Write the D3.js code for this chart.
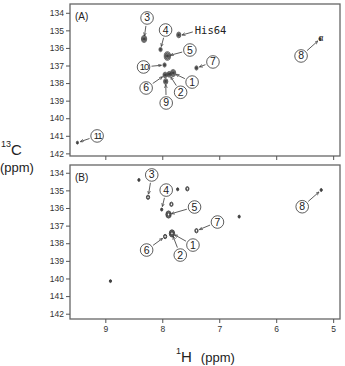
<!DOCTYPE html>
<html>
<head>
<meta charset="utf-8">
<script src="https://cdn.jsdelivr.net/npm/d3@7"></script>
<style>
  body { margin: 0; background: #fff; }
  svg { display: block; }
  text { font-family: "Liberation Sans", Arial, sans-serif; fill: #222; }
</style>
</head>
<body>
<div id="chart"></div>
<script>
// axis ticks
const hTicks = [9, 8, 7, 6, 5];
const cTicks = [134, 135, 136, 137, 138, 139, 140, 141, 142];

// panel (A) peaks: 1H ppm, 13C ppm, contour levels
const peaksAH = [8.32, 8.03, 7.71, 7.91, 7.96, 7.40, 7.95, 7.88, 7.81, 7.94, 9.49, 5.23];
const peaksAC = [135.49, 136.09, 135.26, 136.46, 136.97, 137.14, 137.54, 137.50, 137.43, 137.91, 141.39, 135.49];
const peaksALevel = [4, 2, 3, 5, 2, 2, 3, 3, 4, 3, 1, 1];
// which peak each assignment points to (index into peaksA*)
const labelsA = ['3', '4', '5', '10', '7', '6', '2', '1', '9', '11', '8'];
const labelsAPeak = [0, 1, 3, 4, 5, 6, 7, 8, 9, 10, 11];

// panel (B) peaks
const peaksBH = [8.41, 8.25, 8.01, 7.84, 7.73, 7.56, 7.89, 7.40, 6.65, 7.83, 7.95, 8.91, 5.21];
const peaksBC = [134.41, 135.39, 136.09, 135.79, 134.94, 134.91, 136.37, 137.29, 136.49, 137.44, 137.62, 140.15, 134.98];
const peaksBLevel = [1, 2, 1, 2, 1, 2, 4, 2, 1, 4, 2, 1, 1];
const labelsB = ['3', '4', '5', '7', '1', '2', '6', '8'];
const labelsBPeak = [1, 2, 6, 7, 9, 9, 10, 12];

const width = 345, height = 366;

const svg = d3.select('#chart').append('svg')
  .attr('width', width)
  .attr('height', height);

svg.append('defs').append('marker')
  .attr('id', 'arr')
  .attr('viewBox', '0 0 6 6')
  .attr('refX', 5).attr('refY', 3)
  .attr('markerWidth', 4.5).attr('markerHeight', 4.5)
  .attr('orient', 'auto')
  .append('path')
  .attr('d', 'M0,0.6 L6,3 L0,5.4')
  .attr('fill', 'none')
  .attr('stroke', '#333')
  .attr('stroke-width', 1);

const x = d3.scaleLinear().domain([9.62, 4.88]).range([70, 340]);
const ring = d3.scaleLinear().domain([1, 5]).range([1.1, 3.2]);

// label offsets from the peak, in px
const offA = [[3, -21], [5, -19.5], [22.5, -6], [-21, 2], [16.5, -6], [-19, 13], [11.5, 18], [19, 9], [0.5, 21.5], [19.7, -6.7], [-19, 17]];
const offB = [[3.7, -22.3], [4.5, -19.5], [26, -7.5], [21, -8.7], [21, 11.7], [8.3, 21.7], [-18.5, 13.5], [-19, 16.7]];

function panel(top, bottom, cDomain, H, C, L, labels, labelPeak, offs, name, showX, solid) {
  const y = d3.scaleLinear().domain(cDomain).range([top, bottom]);
  const g = svg.append('g');

  g.append('rect')
    .attr('x', 70).attr('y', top)
    .attr('width', 270).attr('height', bottom - top)
    .attr('fill', 'none')
    .attr('stroke', '#666')
    .attr('stroke-width', 1.3);

  const yAxis = g.append('g')
    .attr('transform', 'translate(70,0)')
    .call(d3.axisLeft(y).tickValues(cTicks).tickSize(4).tickPadding(2));
  yAxis.select('.domain').remove();
  yAxis.selectAll('line').attr('stroke', '#555');
  yAxis.selectAll('text').style('font-size', '8.5px').style('fill', '#333');

  const xAxis = g.append('g')
    .attr('transform', `translate(0,${bottom})`)
    .call(d3.axisBottom(x).tickValues(hTicks).tickSize(4).tickPadding(3).tickFormat(showX ? d3.format('d') : ''));
  xAxis.select('.domain').remove();
  xAxis.selectAll('line').attr('stroke', '#555');
  xAxis.selectAll('text').style('font-size', '8.5px').style('fill', '#333');

  g.append('text')
    .attr('x', 75).attr('y', top + 16)
    .style('font-size', '10px')
    .text(name);

  // contour rings
  H.forEach((h, i) => {
    const cx = x(h), cy = y(C[i]);
    for (let k = 1; k <= L[i]; k++) {
      g.append('ellipse')
        .attr('cx', cx).attr('cy', cy)
        .attr('rx', ring(k)).attr('ry', ring(k) * 1.35)
        .attr('fill', k === 1 && (solid || L[i] === 1) ? '#444' : 'none')
        .attr('stroke', '#3a3a3a')
        .attr('stroke-width', solid ? 0.7 : 0.9);
    }
  });

  // circled assignment numbers with arrows
  labels.forEach((lab, i) => {
    const p = labelPeak[i];
    const px = x(H[p]), py = y(C[p]);
    const lx = px + offs[i][0], ly = py + offs[i][1];
    const dx = px - lx, dy = py - ly, d = Math.hypot(dx, dy);
    const ux = dx / d, uy = dy / d;
    const two = lab.length > 1;
    g.append('line')
      .attr('x1', lx + ux * 8).attr('y1', ly + uy * 8)
      .attr('x2', px - ux * 3.5).attr('y2', py - uy * 3.5)
      .attr('stroke', '#333').attr('stroke-width', 0.8)
      .attr('marker-end', 'url(#arr)');
    g.append('circle')
      .attr('cx', lx).attr('cy', ly).attr('r', 6.3)
      .attr('fill', '#fff').attr('stroke', '#333').attr('stroke-width', 0.8);
    g.append('text')
      .attr('x', two ? lx + 0.5 : lx).attr('y', ly + 3.5)
      .attr('text-anchor', 'middle')
      .style('font-size', two ? '9.5px' : '10.5px')
      .style('letter-spacing', two ? '-1px' : '0')
      .style('fill', '#222')
      .text(lab);
  });
  return { g, y };
}

const A = panel(4, 156, [133.5, 142.15], peaksAH, peaksAC, peaksALevel, labelsA, labelsAPeak, offA, '(A)', false, true);
const B = panel(165, 319, [133.56, 142.3], peaksBH, peaksBC, peaksBLevel, labelsB, labelsBPeak, offB, '(B)', true, false);

// His64 and alpha annotations in panel (A)
{
  const px = x(peaksAH[2]), py = A.y(peaksAC[2]);
  A.g.append('line')
    .attr('x1', px + 14).attr('y1', py - 3)
    .attr('x2', px + 3.5).attr('y2', py)
    .attr('stroke', '#333').attr('stroke-width', 0.8)
    .attr('marker-end', 'url(#arr)');
  A.g.append('text')
    .attr('x', px + 16).attr('y', py - 0.5)
    .style('font-family', '"DejaVu Sans Mono", monospace')
    .style('font-size', '10.5px')
    .text('His64');
  const ax = x(peaksAH[11]), ay = A.y(peaksAC[11]);
  A.g.append('text')
    .attr('x', ax - 1.5).attr('y', ay + 2)
    .style('font-size', '8.5px')
    .text('α');
}

// axis titles
const cTitle = svg.append('text').attr('x', 1).attr('y', 155).style('font-size', '15px');
cTitle.append('tspan').attr('dy', -8).style('font-size', '9px').text('13');
cTitle.append('tspan').attr('dy', 8).text('C');
svg.append('text').attr('x', 0).attr('y', 172).style('font-size', '13px').text('(ppm)');

const hTitle = svg.append('text').attr('x', 176).attr('y', 362).style('font-size', '15px');
hTitle.append('tspan').attr('dy', -8).style('font-size', '9px').text('1');
hTitle.append('tspan').attr('dy', 8).text('H');
hTitle.append('tspan').attr('dx', 9).style('font-size', '13px').text('(ppm)');
</script>
</body>
</html>
